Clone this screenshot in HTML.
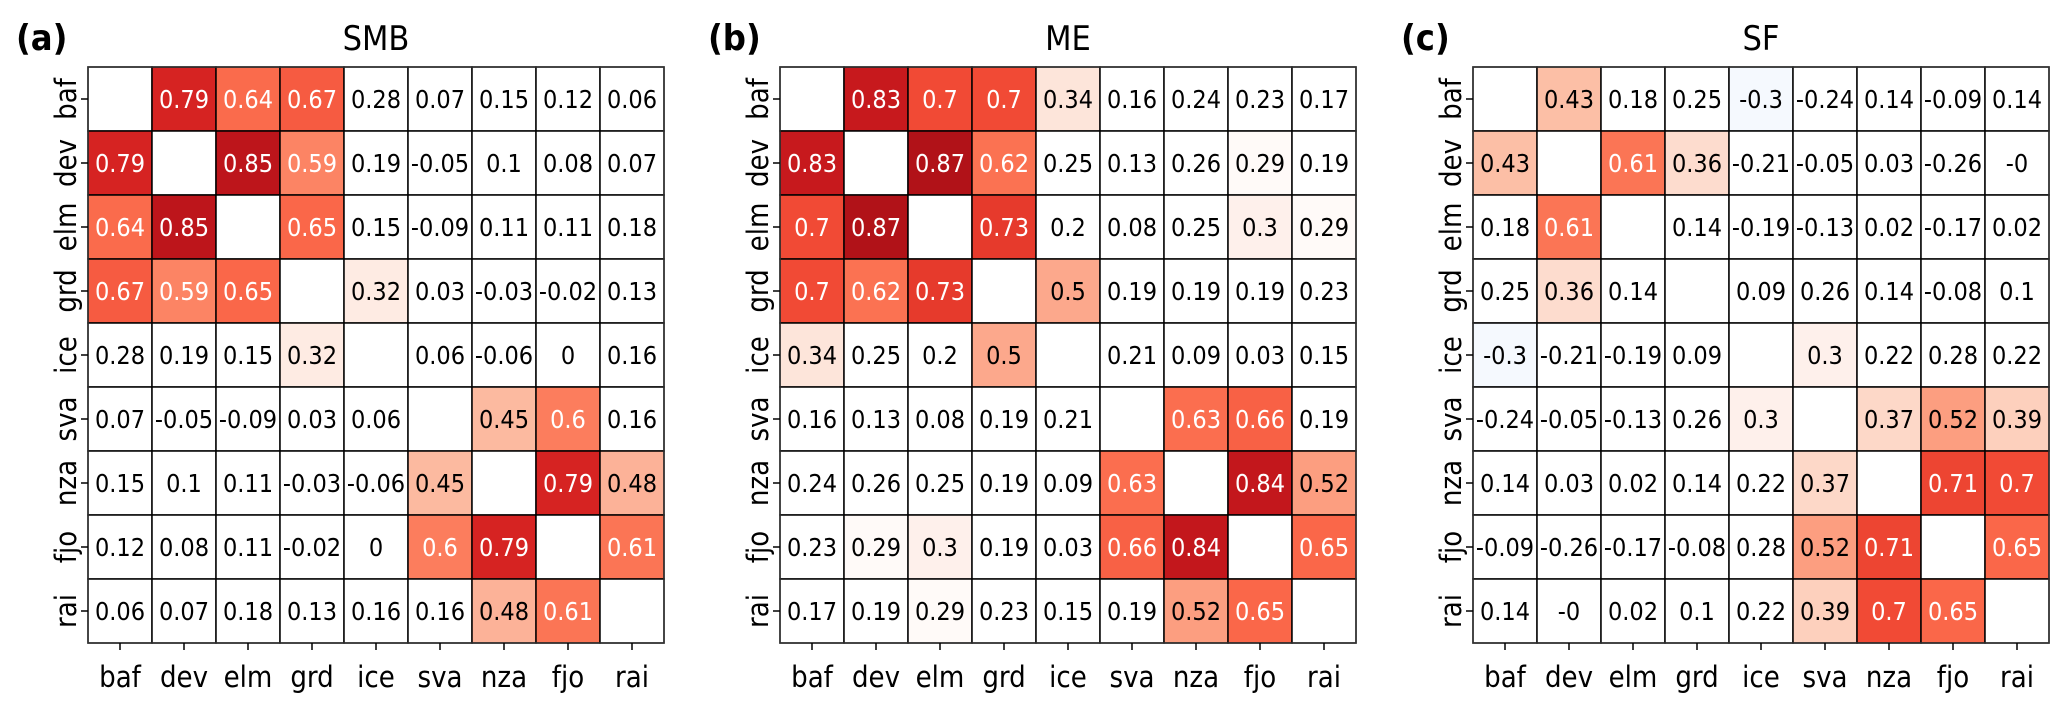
<!DOCTYPE html>
<html><head><meta charset="utf-8"><style>
html,body{margin:0;padding:0;background:#fff;}
svg{display:block;font-family:"DejaVu Sans Condensed","DejaVu Sans","Liberation Sans",sans-serif;font-stretch:condensed;}
</style></head><body>
<svg id="fig" width="2067" height="710" viewBox="0 0 2067 710" xmlns="http://www.w3.org/2000/svg"></svg>
<script>
const categories = ["baf","dev","elm","grd","ice","sva","nza","fjo","rai"];
const panelTitles = ["SMB","ME","SF"];
const panelLetters = ["(a)","(b)","(c)"];
const N = null;
const smbValues = [
 [N,0.79,0.64,0.67,0.28,0.07,0.15,0.12,0.06],
 [0.79,N,0.85,0.59,0.19,-0.05,0.1,0.08,0.07],
 [0.64,0.85,N,0.65,0.15,-0.09,0.11,0.11,0.18],
 [0.67,0.59,0.65,N,0.32,0.03,-0.03,-0.02,0.13],
 [0.28,0.19,0.15,0.32,N,0.06,-0.06,0,0.16],
 [0.07,-0.05,-0.09,0.03,0.06,N,0.45,0.6,0.16],
 [0.15,0.1,0.11,-0.03,-0.06,0.45,N,0.79,0.48],
 [0.12,0.08,0.11,-0.02,0,0.6,0.79,N,0.61],
 [0.06,0.07,0.18,0.13,0.16,0.16,0.48,0.61,N]
];
const meValues = [
 [N,0.83,0.7,0.7,0.34,0.16,0.24,0.23,0.17],
 [0.83,N,0.87,0.62,0.25,0.13,0.26,0.29,0.19],
 [0.7,0.87,N,0.73,0.2,0.08,0.25,0.3,0.29],
 [0.7,0.62,0.73,N,0.5,0.19,0.19,0.19,0.23],
 [0.34,0.25,0.2,0.5,N,0.21,0.09,0.03,0.15],
 [0.16,0.13,0.08,0.19,0.21,N,0.63,0.66,0.19],
 [0.24,0.26,0.25,0.19,0.09,0.63,N,0.84,0.52],
 [0.23,0.29,0.3,0.19,0.03,0.66,0.84,N,0.65],
 [0.17,0.19,0.29,0.23,0.15,0.19,0.52,0.65,N]
];
const sfValues = [
 [N,0.43,0.18,0.25,-0.3,-0.24,0.14,-0.09,0.14],
 [0.43,N,0.61,0.36,-0.21,-0.05,0.03,-0.26,-0],
 [0.18,0.61,N,0.14,-0.19,-0.13,0.02,-0.17,0.02],
 [0.25,0.36,0.14,N,0.09,0.26,0.14,-0.08,0.1],
 [-0.3,-0.21,-0.19,0.09,N,0.3,0.22,0.28,0.22],
 [-0.24,-0.05,-0.13,0.26,0.3,N,0.37,0.52,0.39],
 [0.14,0.03,0.02,0.14,0.22,0.37,N,0.71,0.7],
 [-0.09,-0.26,-0.17,-0.08,0.28,0.52,0.71,N,0.65],
 [0.14,-0,0.02,0.1,0.22,0.39,0.7,0.65,N]
];
const panels = [smbValues, meValues, sfValues];

const colorStops = [
 [-0.3,[245,249,254]],[-0.285,[255,255,255]],[0.285,[255,255,255]],[0.3,[254,240,235]],[0.34,[253,229,218]],
 [0.36,[253,220,206]],[0.43,[252,191,166]],[0.48,[252,178,152]],[0.52,[252,158,128]],
 [0.59,[252,132,100]],[0.61,[251,117,85]],[0.65,[250,103,73]],[0.7,[241,74,53]],
 [0.73,[230,58,44]],[0.79,[214,35,34]],[0.84,[195,23,28]],[0.87,[177,18,24]]
];
function color(v){
  if(v<=colorStops[0][0]) return 'rgb('+colorStops[0][1]+')';
  for(let i=1;i<colorStops.length;i++){
    if(v<=colorStops[i][0]){
      const a=colorStops[i-1],b=colorStops[i];
      const t=(v-a[0])/(b[0]-a[0]);
      return 'rgb('+a[1].map((c,k)=>Math.round(c+(b[1][k]-c)*t)).join(',')+')';
    }
  }
  return 'rgb('+colorStops[colorStops.length-1][1]+')';
}
function label(v){ if(Object.is(v,-0)) return '-0'; return String(v); }

const NS='http://www.w3.org/2000/svg';
const svg=document.getElementById('fig');
function mk(tag,attrs,parent){const e=document.createElementNS(NS,tag);for(const k in attrs)e.setAttribute(k,attrs[k]);(parent||svg).appendChild(e);return e;}

const panelLeft=[88,780,1473], gridTop=67, cell=64;
panels.forEach((vals,p)=>{
  const x0=panelLeft[p];
  const xPos=i=>x0+i*cell, yPos=j=>gridTop+j*cell;
  const g=mk('g',{});
  
  
  const pl=mk('text',{x:x0-72,y:50,'font-size':36,'font-weight':'bold'},g);
  pl.textContent=panelLetters[p];
  
  
  const tt=mk('text',{x:x0+4.5*cell,y:50,'font-size':34,'text-anchor':'middle'},g);
  tt.textContent=panelTitles[p];
  
  
  vals.forEach((row,j)=>{
    row.forEach((v,i)=>{
      const r=mk('rect',{x:xPos(i),y:yPos(j),width:cell,height:cell,fill:v===null?'#fff':color(v),stroke:'#000','stroke-width':1.5},g);
      
      
      if(v!==null){
        const t=mk('text',{x:xPos(i)+cell/2,y:yPos(j)+cell/2+9,'font-size':25,'text-anchor':'middle',fill:v>0.55?'#fff':'#000'},g);
        t.textContent=label(v);
        
        
      }
    });
  });
  mk('rect',{x:x0,y:gridTop,width:9*cell,height:9*cell,fill:'none',stroke:'#333','stroke-width':1.5},g);
  categories.forEach((c,i)=>{
    const cx=xPos(i)+cell/2;
    mk('line',{x1:cx,y1:gridTop+9*cell,x2:cx,y2:gridTop+9*cell+7,stroke:'#000','stroke-width':1.5},g);
    const xt=mk('text',{x:cx,y:687,'font-size':29,'text-anchor':'middle'},g);
    xt.textContent=c;
    
    
    const cy=yPos(i)+cell/2;
    mk('line',{x1:x0-7,y1:cy,x2:x0,y2:cy,stroke:'#000','stroke-width':1.5},g);
    const yt=mk('text',{x:0,y:0,'font-size':29,'text-anchor':'middle',transform:'translate('+(x0-12)+','+cy+') rotate(-90)'},g);
    yt.textContent=c;
    
    
  });
});
</script>
</body></html>
